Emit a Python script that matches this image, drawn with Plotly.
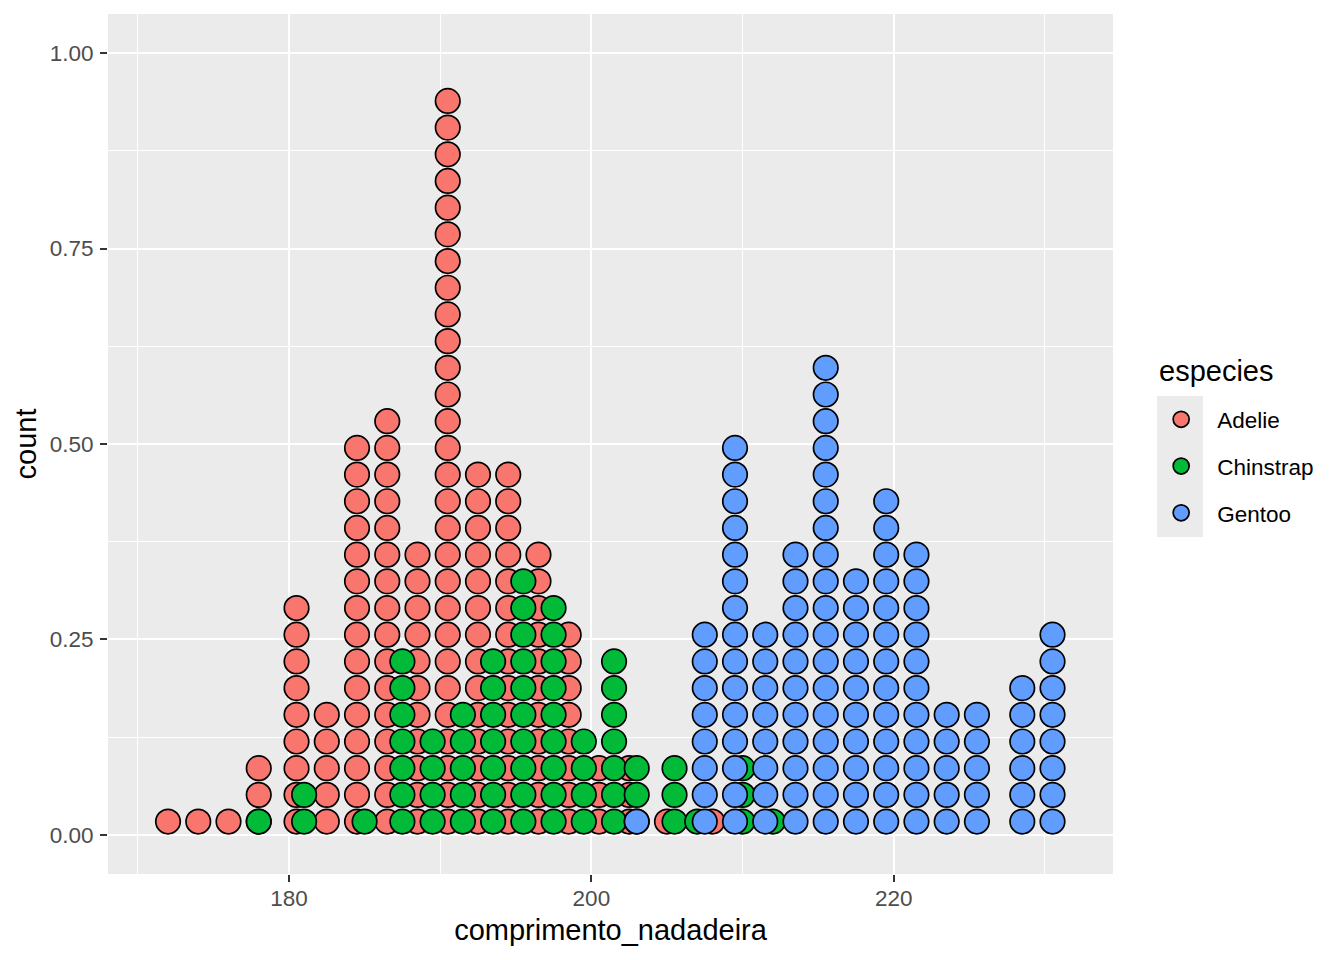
import plotly.graph_objects as go

# binned dot positions (flipper length) and dots per stack
adelie_x = [172.0, 174.0, 176.0, 178.0, 180.5, 182.5, 184.5, 186.5, 188.5, 190.5,
            192.5, 194.5, 196.5, 198.5, 200.5, 202.5, 205.0, 208.0]
adelie_n = [1, 1, 1, 3, 9, 5, 15, 16, 11, 28, 14, 14, 11, 8, 3, 3, 1, 1]

chinstrap_x = [178.0, 181.0, 185.0, 187.5, 189.5, 191.5, 193.5, 195.5, 197.5, 199.5,
               201.5, 203.0, 205.5, 207.0, 210.0, 212.0]
chinstrap_n = [1, 2, 1, 7, 4, 5, 7, 10, 9, 4, 7, 3, 3, 1, 3, 1]

gentoo_x = [203.0, 207.5, 209.5, 211.5, 213.5, 215.5, 217.5, 219.5, 221.5, 223.5,
            225.5, 228.5, 230.5]
gentoo_n = [1, 8, 15, 8, 11, 18, 10, 13, 11, 5, 5, 6, 8]

species = ['Adelie', 'Chinstrap', 'Gentoo']
colors = ['#F8766D', '#00BA38', '#619CFF']

STEP = 0.03414  # vertical stacking distance between dots (y units)
FONT = 'Liberation Sans, Arial, sans-serif'


def stack(xs, ns):
    px, py = [], []
    for x, n in zip(xs, ns):
        for k in range(n):
            px.append(x)
            py.append((k + 0.5) * STEP)
    return px, py


fig = go.Figure()
for name, xs, ns, col in zip(species,
                             [adelie_x, chinstrap_x, gentoo_x],
                             [adelie_n, chinstrap_n, gentoo_n],
                             colors):
    px, py = stack(xs, ns)
    fig.add_trace(go.Scatter(
        x=px, y=py, mode='markers', name=name, legendgroup=name,
        marker=dict(color=col, size=24.5, line=dict(color='black', width=1.7))
    ))

axis_common = dict(
    showline=False, zeroline=False,
    showgrid=True, gridcolor='white', gridwidth=2.2,
    ticks='outside', ticklen=7, tickwidth=2, tickcolor='#333333',
    tickfont=dict(family=FONT, size=22.5, color='#4D4D4D'),
    title_font=dict(family=FONT, size=29, color='black'),
)

# the page body has an 8px margin, so the margins below are shifted by 8px
fig.update_layout(
    width=1344, height=960,
    paper_bgcolor='white', plot_bgcolor='#EBEBEB',
    margin=dict(l=100, r=239, t=6, b=94),
    font=dict(family=FONT, color='black'),
    xaxis=dict(range=[168.03, 234.50], tickvals=[180, 200, 220],
               minor=dict(tickvals=[170, 190, 210, 230], showgrid=True,
                          gridcolor='white', gridwidth=1.1, ticks=''),
               ticklabelstandoff=-3,
               title=dict(text='comprimento_nadadeira', standoff=9),
               **axis_common),
    yaxis=dict(range=[-0.05, 1.05], tickvals=[0, 0.25, 0.5, 0.75, 1.0],
               tickformat='.2f',
               minor=dict(tickvals=[0.125, 0.375, 0.625, 0.875], showgrid=True,
                          gridcolor='white', gridwidth=1.1, ticks=''),
               ticklabelstandoff=2,
               title=dict(text='count', standoff=4),
               **axis_common),
    legend=dict(
        x=1.032, y=0.5533, xanchor='left', yanchor='top',
        font=dict(family=FONT, size=22.5, color='black'),
        itemwidth=62, tracegroupgap=14.5, bgcolor='rgba(0,0,0,0)',
    ),
    showlegend=True,
)

# legend title as a separate label so the gap to the keys can be set
fig.add_annotation(text='especies', xref='paper', yref='paper',
                   x=(1157 - 108) / 1005, y=(874 - 371) / 860,
                   xanchor='left', yanchor='middle', showarrow=False,
                   font=dict(family=FONT, size=29, color='black'))

# grey background behind legend keys
fig.add_shape(type='rect', xref='paper', yref='paper', layer='below',
              x0=(1157 - 108) / 1005, x1=(1203 - 108) / 1005,
              y0=(874 - 537) / 860, y1=(874 - 396) / 860,
              fillcolor='#EBEBEB', line=dict(width=0))

fig.write_html('out.html')
